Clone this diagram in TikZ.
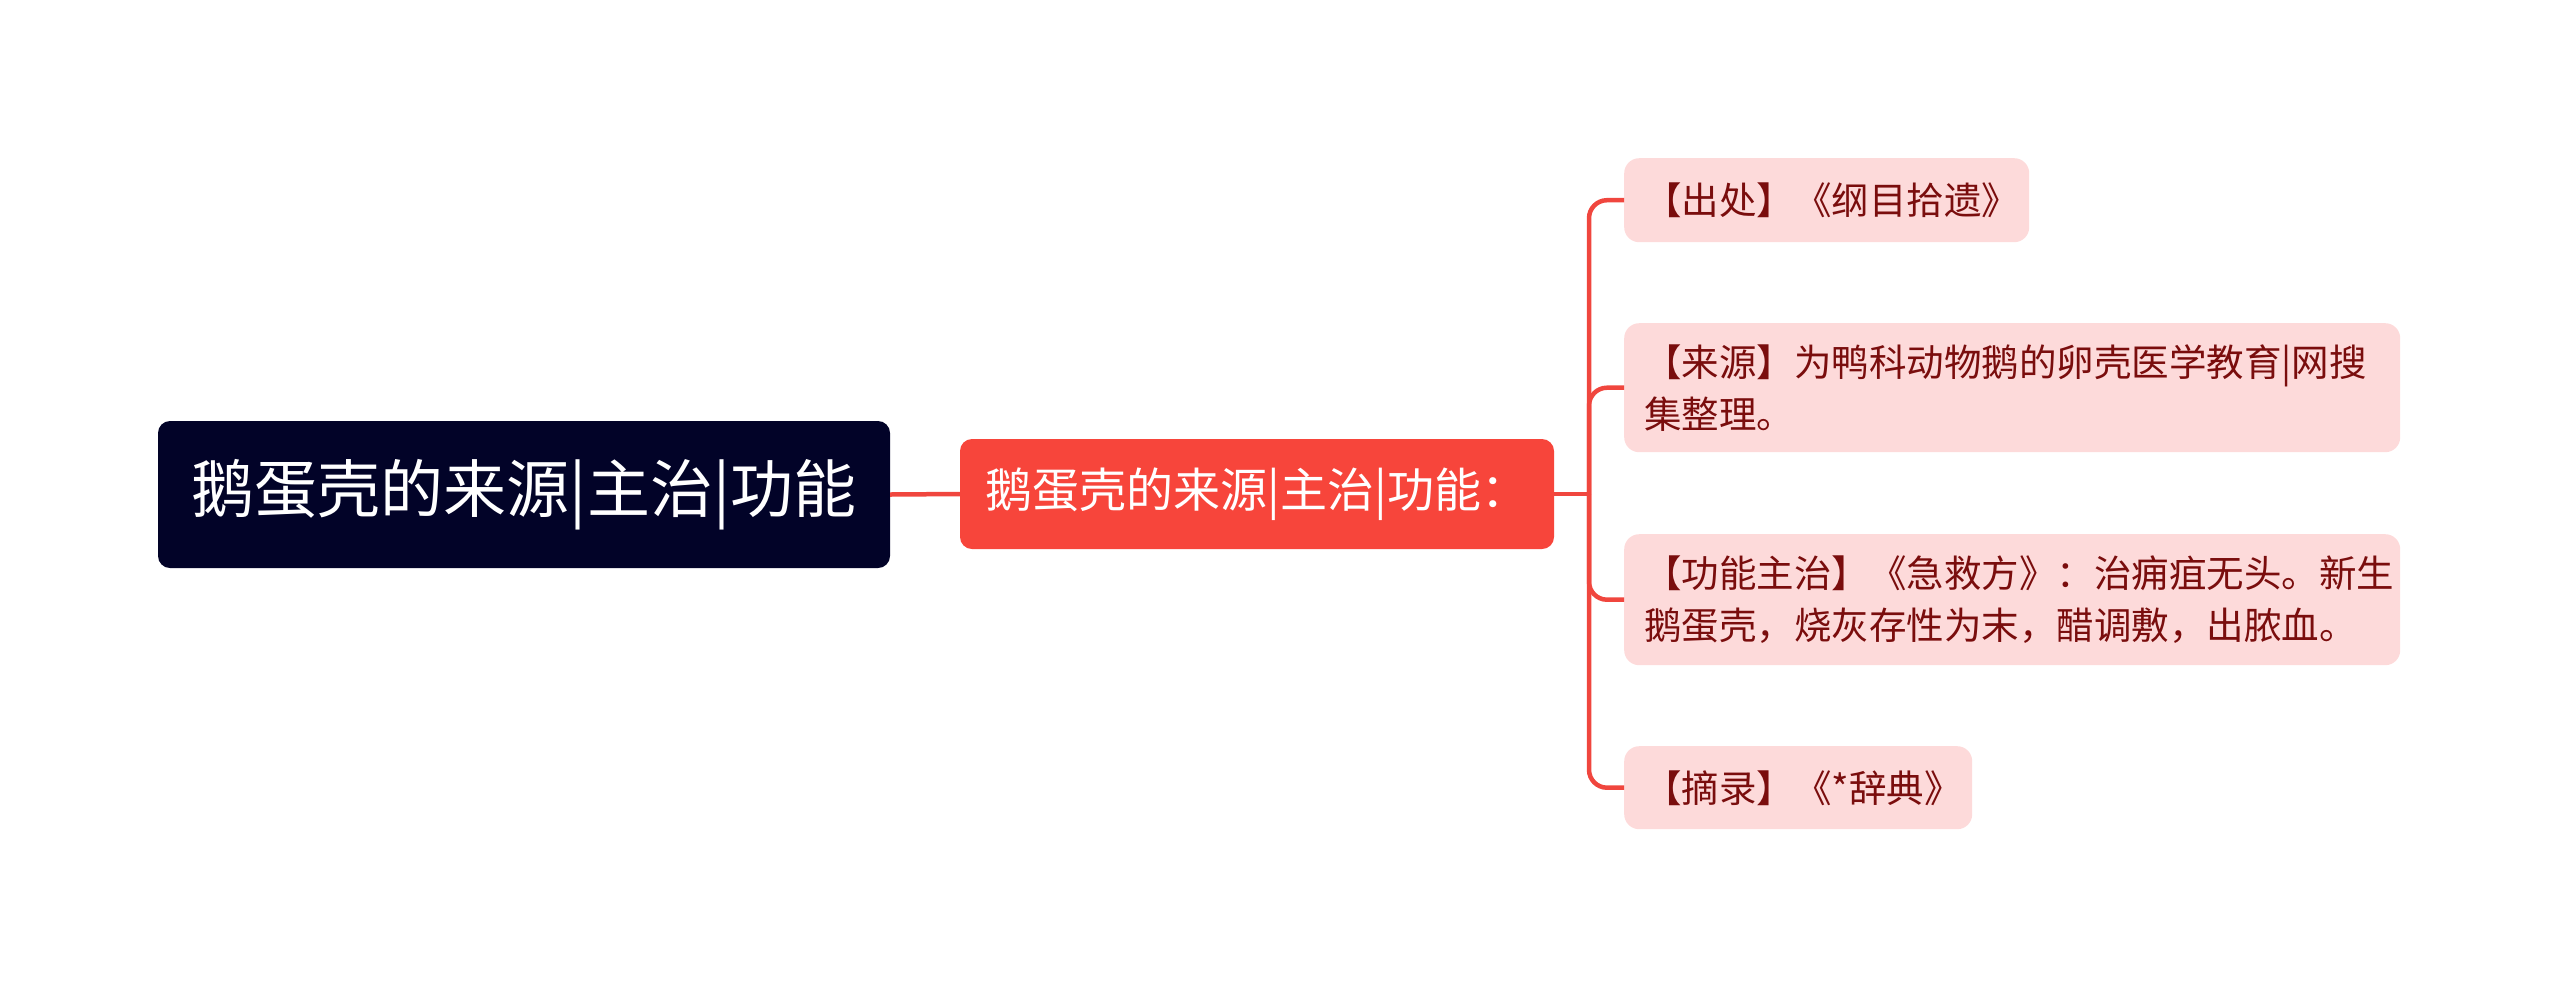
\documentclass[tikz,border=0pt]{standalone}
\usepackage{fontspec}
\newfontfamily\cjk{Noto Sans CJK SC}
\definecolor{rootfill}{RGB}{2,3,40}
\definecolor{midfill}{RGB}{247,69,59}
\definecolor{leaffill}{RGB}{253,218,218}
\definecolor{leaftext}{RGB}{122,13,13}
\definecolor{linecol}{RGB}{240,70,62}
\tikzset{
  rootbox/.style={fill=rootfill, text=white, rounded corners=12pt, inner sep=0pt,
    minimum width=732pt, minimum height=147pt, font=\cjk\fontsize{63}{72}\selectfont},
  midbox/.style={fill=midfill, text=white, rounded corners=12pt, inner sep=0pt,
    minimum width=594pt, minimum height=110pt, font=\cjk\fontsize{47}{56}\selectfont},
  leafbox/.style={fill=leaffill, text=leaftext, rounded corners=15pt, inner xsep=20pt, inner ysep=0pt,
    anchor=north west, align=left, font=\cjk\fontsize{37.5}{52}\selectfont},
  conn/.style={draw=linecol, line width=4.5pt},
}
\begin{document}
\begin{tikzpicture}[x=1pt,y=-1pt]
\useasboundingbox (0,0) rectangle (2560,989);
\node[rootbox] (root) at (524,494.5) {鹅蛋壳的来源|主治|功能};
\node[midbox] (mid) at (1257,494) {鹅蛋壳的来源|主治|功能：};
\node[leafbox, text width=365pt, minimum height=84pt] (n1) at (1624,158) {【出处】《纲目拾遗》};
\node[leafbox, text width=736pt, minimum height=129pt] (n2) at (1624,323) {【来源】为鸭科动物鹅的卵壳医学教育|网搜\\集整理。};
\node[leafbox, text width=736pt, minimum height=131pt] (n3) at (1624,534) {【功能主治】《急救方》：治痈疽无头。新生\\鹅蛋壳，烧灰存性为末，醋调敷，出脓血。};
\node[leafbox, text width=308pt, minimum height=83pt] (n4) at (1624,746) {【摘录】《*辞典》};
\coordinate (trunk) at (1589,494);
\draw[conn] (root.east) -- (mid.west);
\draw[conn] (mid.east) -- (trunk);
\draw[conn, rounded corners=18pt] (trunk) |- (n1.west);
\draw[conn, rounded corners=18pt] (trunk) |- (n2.west);
\draw[conn, rounded corners=18pt] (trunk) |- (n3.west);
\draw[conn, rounded corners=18pt] (trunk) |- (n4.west);
\end{tikzpicture}
\end{document}
